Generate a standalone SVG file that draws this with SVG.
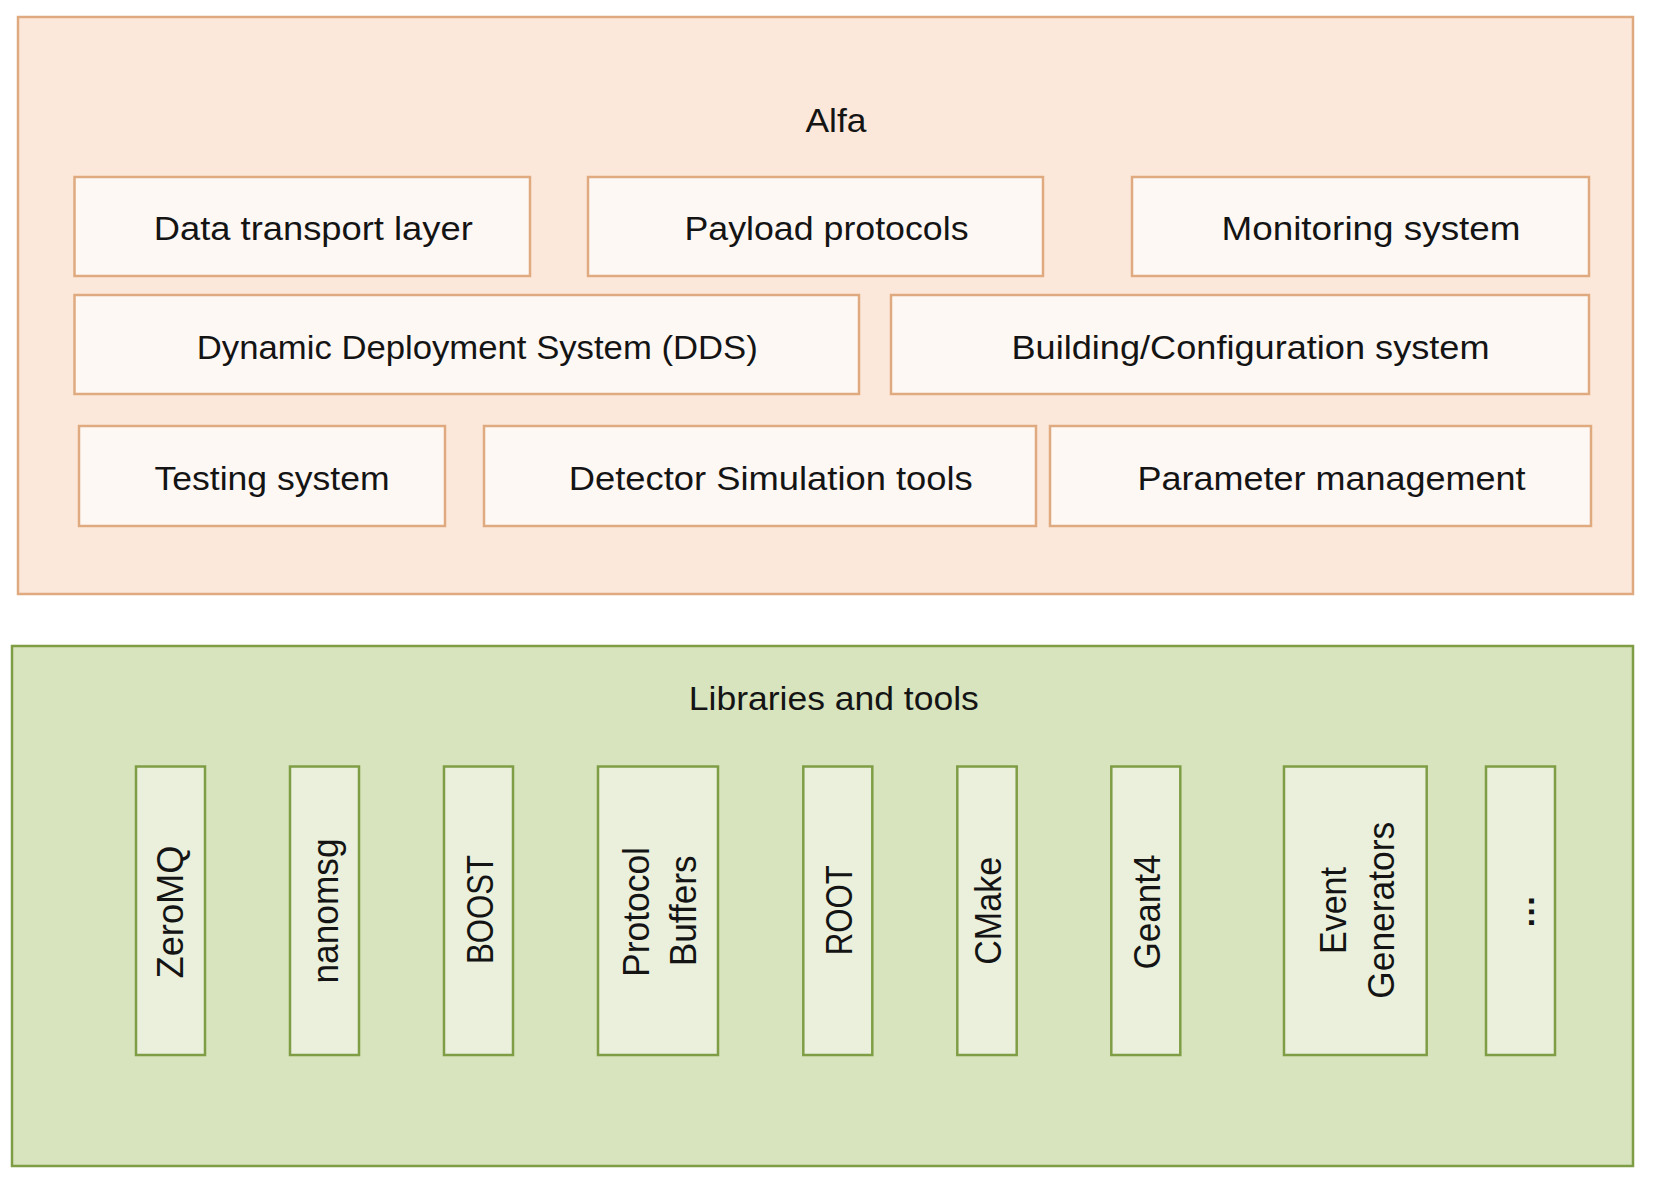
<svg xmlns="http://www.w3.org/2000/svg" width="1654" height="1184" viewBox="0 0 1654 1184">
<style>
.peach{fill:#FCE8DA;stroke:#E0AA80;stroke-width:2.5}
.box{fill:#FEF8F4;stroke:#E0AA80;stroke-width:2.5}
.green{fill:#D8E4BD;stroke:#7F9D45;stroke-width:2.5}
.col{fill:#EAF0DC;stroke:#7F9D45;stroke-width:2.5}
text{font-family:"Liberation Sans",Arial,sans-serif;fill:#141414;text-anchor:middle}
.h{font-size:34px}
.v{font-size:36px}
</style>
<rect width="1654" height="1184" fill="#ffffff"/>
<g id="alfa">
<rect class="peach" x="18" y="17" width="1615" height="577"/>
<text class="h" x="836" y="132" textLength="61" lengthAdjust="spacingAndGlyphs">Alfa</text>
</g>
<g id="data-transport">
<rect class="box" x="74.5" y="177" width="455.5" height="99"/>
<text class="h" x="313.3" y="240" textLength="319" lengthAdjust="spacingAndGlyphs">Data transport layer</text>
</g>
<g id="payload">
<rect class="box" x="588" y="177" width="455" height="99"/>
<text class="h" x="826.5" y="239.5" textLength="284" lengthAdjust="spacingAndGlyphs">Payload protocols</text>
</g>
<g id="monitoring">
<rect class="box" x="1132" y="177" width="457" height="99"/>
<text class="h" x="1371" y="240" textLength="299" lengthAdjust="spacingAndGlyphs">Monitoring system</text>
</g>
<g id="dds">
<rect class="box" x="74.5" y="295" width="784.5" height="99"/>
<text class="h" x="477.3" y="358.5" textLength="561" lengthAdjust="spacingAndGlyphs">Dynamic Deployment System (DDS)</text>
</g>
<g id="building">
<rect class="box" x="891" y="295" width="698" height="99"/>
<text class="h" x="1250.5" y="359" textLength="478" lengthAdjust="spacingAndGlyphs">Building/Configuration system</text>
</g>
<g id="testing">
<rect class="box" x="79" y="426" width="366" height="100"/>
<text class="h" x="272" y="490" textLength="235" lengthAdjust="spacingAndGlyphs">Testing system</text>
</g>
<g id="detector">
<rect class="box" x="484" y="426" width="552" height="100"/>
<text class="h" x="770.8" y="489.5" textLength="404" lengthAdjust="spacingAndGlyphs">Detector Simulation tools</text>
</g>
<g id="parameter">
<rect class="box" x="1050" y="426" width="541" height="100"/>
<text class="h" x="1331.5" y="490" textLength="388" lengthAdjust="spacingAndGlyphs">Parameter management</text>
</g>
<g id="libraries">
<rect class="green" x="12" y="646" width="1621" height="520"/>
<text class="h" x="833.8" y="710" textLength="290" lengthAdjust="spacingAndGlyphs">Libraries and tools</text>
</g>
<g id="zeromq">
<rect class="col" x="136" y="766.5" width="69" height="288.5"/>
<text class="v" transform="translate(183.3,912) rotate(-90)" textLength="133" lengthAdjust="spacingAndGlyphs">ZeroMQ</text>
</g>
<g id="nanomsg">
<rect class="col" x="290" y="766.5" width="69" height="288.5"/>
<text class="v" transform="translate(338.3,911) rotate(-90)" textLength="145" lengthAdjust="spacingAndGlyphs">nanomsg</text>
</g>
<g id="boost">
<rect class="col" x="444" y="766.5" width="69" height="288.5"/>
<text class="v" transform="translate(492.5,909.5) rotate(-90)" textLength="109" lengthAdjust="spacingAndGlyphs">BOOST</text>
</g>
<g id="protobuf">
<rect class="col" x="598" y="766.5" width="120" height="288.5"/>
<text class="v" transform="translate(649,912) rotate(-90)" textLength="130" lengthAdjust="spacingAndGlyphs">Protocol</text>
<text class="v" transform="translate(696,910.8) rotate(-90)" textLength="111" lengthAdjust="spacingAndGlyphs">Buffers</text>
</g>
<g id="root">
<rect class="col" x="803.3" y="766.5" width="69" height="288.5"/>
<text class="v" transform="translate(852.3,910.3) rotate(-90)" textLength="90" lengthAdjust="spacingAndGlyphs">ROOT</text>
</g>
<g id="cmake">
<rect class="col" x="957.3" y="766.5" width="59.4" height="288.5"/>
<text class="v" transform="translate(1001.3,910.8) rotate(-90)" textLength="108" lengthAdjust="spacingAndGlyphs">CMake</text>
</g>
<g id="geant4">
<rect class="col" x="1111.3" y="766.5" width="69" height="288.5"/>
<text class="v" transform="translate(1160.3,912) rotate(-90)" textLength="115" lengthAdjust="spacingAndGlyphs">Geant4</text>
</g>
<g id="event-generators">
<rect class="col" x="1284" y="766.5" width="142.7" height="288.5"/>
<text class="v" transform="translate(1346,910.5) rotate(-90)" textLength="87" lengthAdjust="spacingAndGlyphs">Event</text>
<text class="v" transform="translate(1393.5,910.3) rotate(-90)" textLength="177" lengthAdjust="spacingAndGlyphs">Generators</text>
</g>
<g id="more">
<rect class="col" x="1486" y="766.5" width="69" height="288.5"/>
<text transform="translate(1534,911.7) rotate(-90)" style="font-size:34px;font-weight:bold">…</text>
</g>
<g id="connectors"></g>
</svg>
